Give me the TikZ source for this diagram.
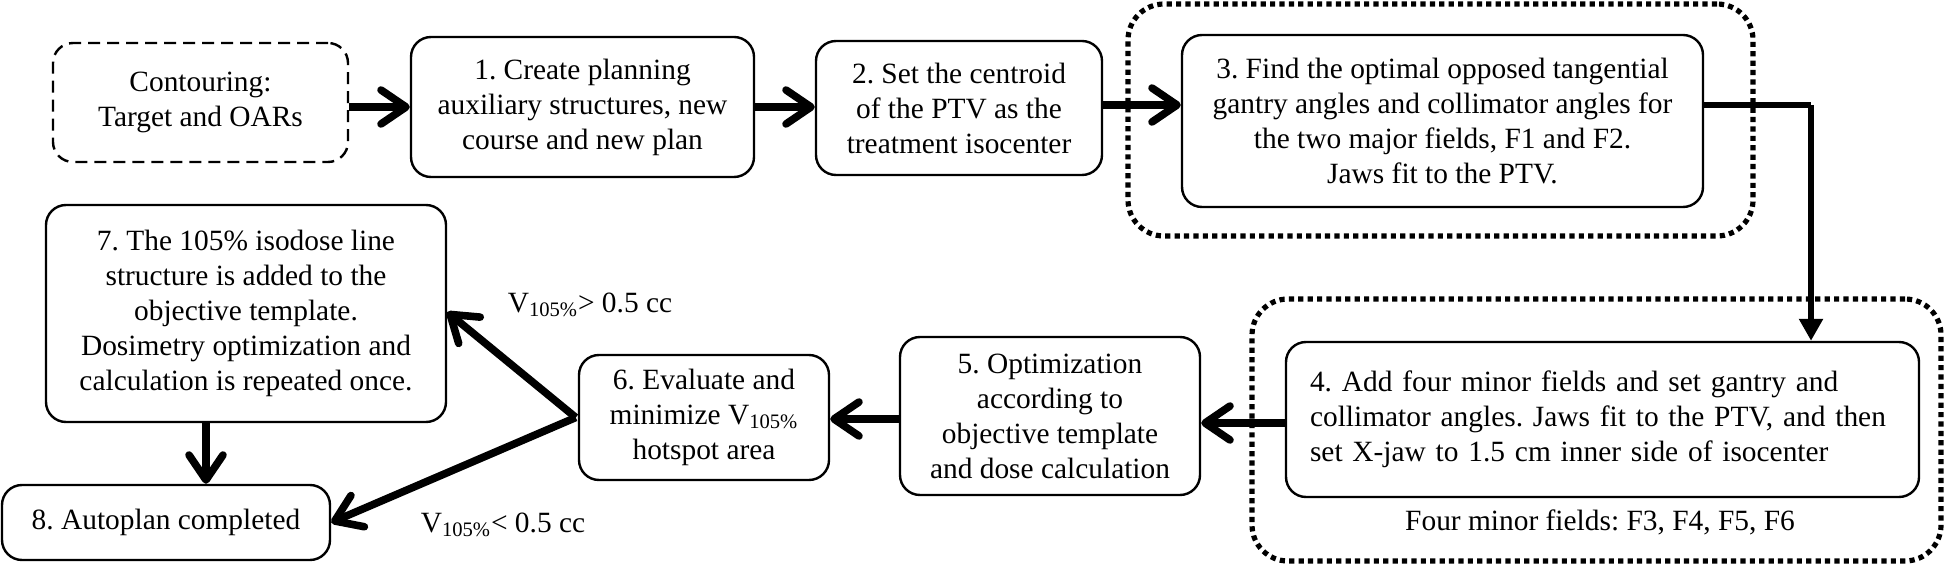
\documentclass[tikz,border=0pt]{standalone}
\usepackage{fontspec}
\setmainfont{Liberation Serif}
\usetikzlibrary{arrows.meta,calc}
\begin{document}
\frenchspacing
\begin{tikzpicture}[x=0.5pt,y=-0.5pt,
  font=\fontsize{14.7}{17.5}\selectfont,
  box/.style={draw, line width=1.2pt, rounded corners=10pt, align=center, inner sep=0pt},
  dashbox/.style={box, dash pattern=on 6pt off 3.5pt},
  dotbox/.style={draw, line width=2.6pt, rounded corners=18pt, dash pattern=on 2.6pt off 2.1pt, inner sep=0pt},
  conn/.style={line width=3.8pt, -{Straight Barb[length=12.5pt,width=17pt,round]}},
  thinconn/.style={line width=2.8pt, -{Triangle[length=11pt,width=11.5pt]}},
  lbl/.style={inner sep=0pt}
]
\useasboundingbox (0,0) rectangle (1946,566);

\node[dotbox, minimum width=312.5pt, minimum height=116pt] (D3) at (1440.5,120) {};
\node[dotbox, minimum width=344.5pt, minimum height=131pt] (D4) at (1596.5,430) {};

\node[dashbox, minimum width=147.5pt, minimum height=59.5pt] (C) at (200.5,102.5) {Contouring:\\Target and OARs};
\node[box, minimum width=171.5pt, minimum height=70pt] (B1) at (582.5,107) {1. Create planning\\auxiliary structures, new\\course and new plan};
\node[box, minimum width=143pt, minimum height=67pt] (B2) at (959,108) {2. Set the centroid\\of the PTV as the\\treatment isocenter};
\node[box, minimum width=260.5pt, minimum height=86pt] (B3) at (1442.5,121) {3. Find the optimal opposed tangential\\gantry angles and collimator angles for\\the two major fields, F1 and F2.\\Jaws fit to the PTV.};
\node[box, minimum width=316.5pt, minimum height=77.5pt, align=left, text width=292.5pt] (B4) at (1602.5,419.5) {4. Add four minor fields and set gantry and\\collimator angles. Jaws fit to the PTV, and then\\set X-jaw to 1.5 cm inner side of isocenter};
\node[lbl] (F) at (1600,522) {Four minor fields: F3, F4, F5, F6};
\node[box, minimum width=150pt, minimum height=79pt] (B5) at (1050,416) {5. Optimization\\according to\\objective template\\and dose calculation};
\node[box, minimum width=125pt, minimum height=62.5pt] (B6) at (704,417.5) {6. Evaluate and\\minimize V\textsubscript{105\%}\\hotspot area};
\node[box, minimum width=200pt, minimum height=108.5pt] (B7) at (246,313.5) {7. The 105\% isodose line\\structure is added to the\\objective template.\\Dosimetry optimization and\\calculation is repeated once.};
\node[box, minimum width=164pt, minimum height=37.5pt] (B8) at (166,522.5) {8. Autoplan completed};

\node[lbl] (L1) at (590,305) {V\textsubscript{105\%}{>} 0.5 cc};
\node[lbl] (L2) at (503,525) {V\textsubscript{105\%}{<} 0.5 cc};

\coordinate (turn) at (1811,105);
\coordinate (s6) at ($(B6.west)+(-2,0)$);

\draw[conn] (C.east |- B1.west) -- (B1.west);
\draw[conn] (B1.east) -- (B1.east -| B2.west);
\draw[conn] (B2.east |- turn) -- (B2.east |- turn -| B3.west);
\draw[line width=2.8pt] (B3.east |- turn) -- (turn);
\draw[thinconn] (turn) -- (turn |- B4.north);
\draw[conn] (B4.west |- 0,423) -- (B5.east |- 0,423);
\draw[conn] (B5.west |- 0,419) -- (B6.east |- 0,419);
\draw[conn] (s6) -- (B7.east |- 0,312);
\draw[conn] (s6) -- (B8.east);
\draw[conn] (206,0 |- B7.south) -- (206,0 |- B8.north);
\end{tikzpicture}
\end{document}
